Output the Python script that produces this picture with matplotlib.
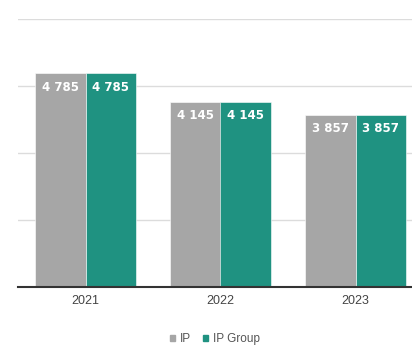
import matplotlib
matplotlib.use("Agg")
import matplotlib.pyplot as plt
import numpy as np
from matplotlib.patches import Patch

years = ["2021", "2022", "2023"]
ip_values = [4785, 4145, 3857]
ip_group_values = [4785, 4145, 3857]
series_names = ["IP", "IP Group"]
y_ticks = [0, 1500, 3000, 4500, 6000]

GRAY = "#a6a6a6"
TEAL = "#1f9281"

def fmt(v):
    return f"{v:,}".replace(",", " ")

fig = plt.figure(figsize=(4.12, 3.49), dpi=100)
ax = fig.add_axes([18 / 412, 62 / 349, 405 / 412, 268 / 349])

x = np.arange(len(years))
w = 0.372
b1 = ax.bar(x - w / 2, ip_values, w, color=GRAY, edgecolor="white", linewidth=0.4, zorder=3)
b2 = ax.bar(x + w / 2, ip_group_values, w, color=TEAL, edgecolor="white", linewidth=0.4, zorder=3)

for bars, vals in ((b1, ip_values), (b2, ip_group_values)):
    for r, v in zip(bars, vals):
        ax.annotate(fmt(v), (r.get_x() + r.get_width() / 2, v), xytext=(0, -5.5),
                    textcoords="offset points", ha="center", va="top",
                    color="white", fontsize=8.5, fontweight="bold", zorder=4)

ax.set_xlim(-0.5, 2.5)
ax.set_ylim(0, 6000)
ax.set_yticks(y_ticks)
ax.set_yticklabels([])
ax.tick_params(axis="y", length=0)
ax.grid(axis="y", color="#dcdcdc", linewidth=1, zorder=0)
ax.set_xticks(x)
ax.set_xticklabels(years, fontsize=9, color="#444444", family="Liberation Sans")
ax.tick_params(axis="x", length=0, pad=6)
for s in ("top", "right", "left"):
    ax.spines[s].set_visible(False)
ax.spines["bottom"].set_color("#333333")
ax.spines["bottom"].set_linewidth(1.5)
ax.spines["bottom"].set_zorder(5)

handles = [Patch(color=GRAY), Patch(color=TEAL)]
fig.legend(handles, series_names, loc="center", bbox_to_anchor=(215 / 412, 1 - 339 / 349),
           ncol=2, frameon=False, prop={"family": "Liberation Sans", "size": 8.5},
           handlelength=0.45, handleheight=0.45, handletextpad=0.4, columnspacing=1.0,
           labelcolor="#555555")

fig.savefig("out.png", dpi=100)
